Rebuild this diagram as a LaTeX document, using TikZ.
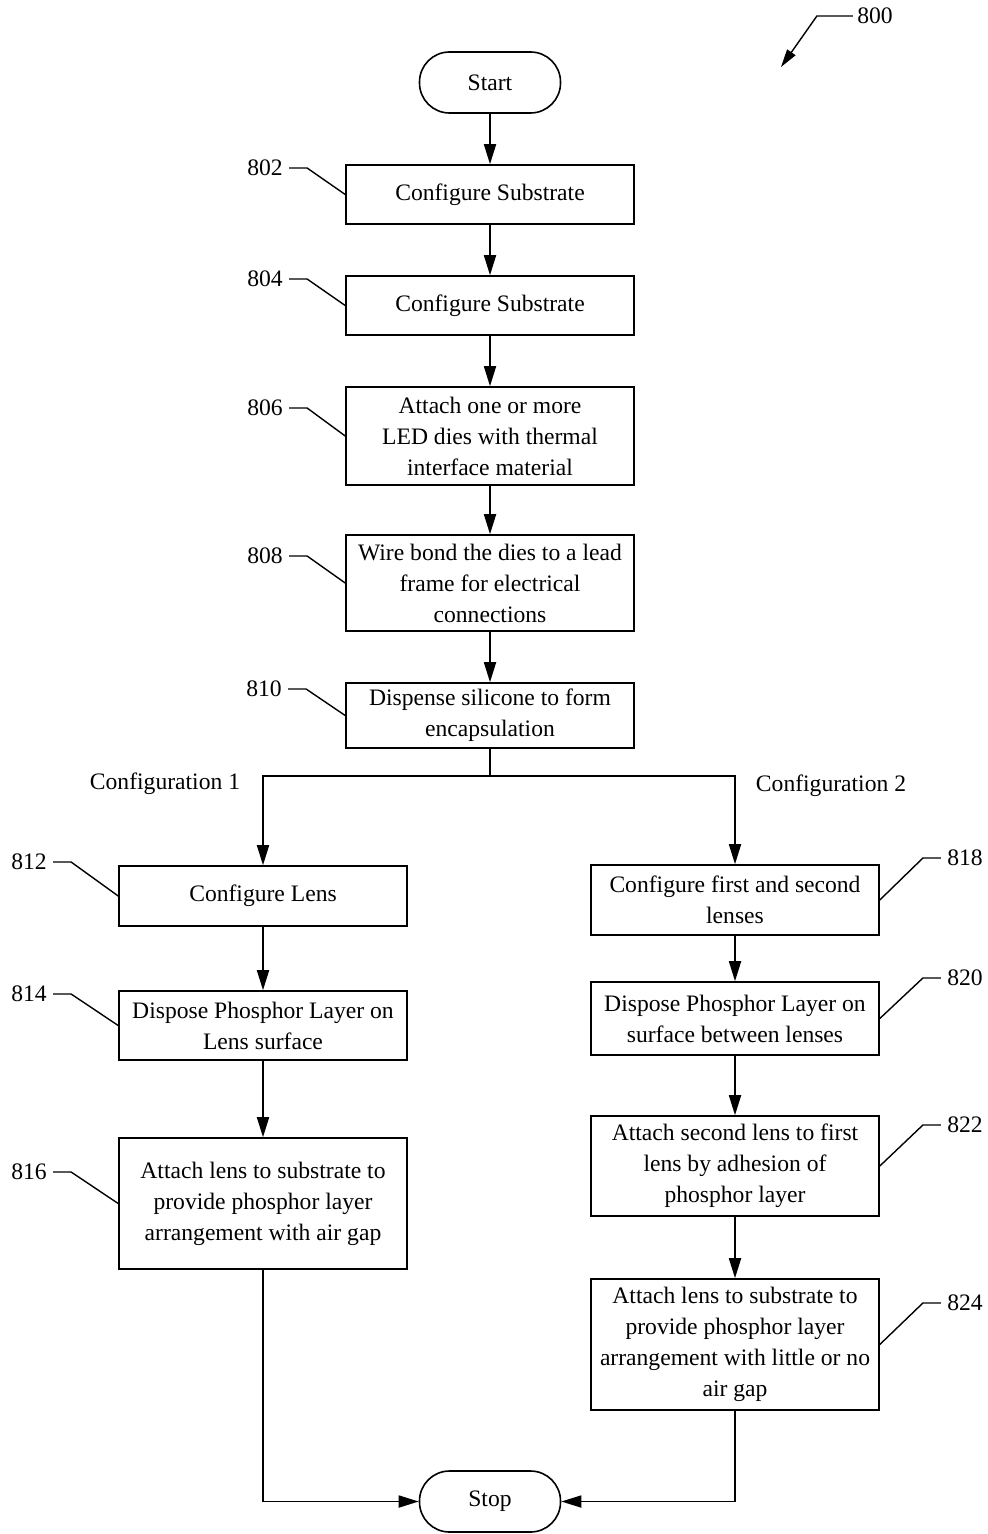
\documentclass[tikz,border=0pt]{standalone}
\usepackage{fontspec}
\setmainfont{Liberation Serif}
\usetikzlibrary{arrows.meta}
\begin{document}
\begin{tikzpicture}[x=0.5pt,y=-0.5pt,
  txt/.style={font=\fontsize{11.8}{15.5}\selectfont},
  box/.style={txt, draw, line width=0.8pt, minimum width=144pt, align=center, inner sep=1pt},
  term/.style={txt, draw, line width=0.8pt, rounded corners=15pt, minimum width=70.5pt, minimum height=30.5pt},
  lbl/.style={txt, inner sep=0pt},
  conn/.style={line width=0.9pt, -{Triangle[length=10pt,width=6pt]}},
  lead/.style={line width=0.7pt}]
\useasboundingbox (0,0) rectangle (988,1534);

% nodes
\node[term] (start) at (490,82.5) {Start};
\node[box, minimum height=29.5pt] (b802) at (490,194.5) {Configure Substrate};
\node[box, minimum height=29.5pt] (b804) at (490,305.5) {Configure Substrate};
\node[box, minimum height=49pt] (b806) at (490,436) {Attach one or more\\LED dies with thermal\\interface material};
\node[box, minimum height=48pt] (b808) at (490,583) {Wire bond the dies to a lead\\frame for electrical\\connections};
\node[box, minimum height=32.5pt] (b810) at (490,715.5) {Dispense silicone to form\\encapsulation};
\coordinate (split) at (490,776);
\node[box, minimum height=30pt] (b812) at (263,896) {Configure Lens};
\node[box, minimum height=34.5pt] (b814) at (263,1025.5) {Dispose Phosphor Layer on\\Lens surface};
\node[box, minimum height=65.5pt] (b816) at (263,1203.5) {Attach lens to substrate to\\provide phosphor layer\\arrangement with air gap};
\node[box, minimum height=35pt] (b818) at (735,900) {Configure first and second\\lenses};
\node[box, minimum height=36.5pt] (b820) at (735,1018.5) {Dispose Phosphor Layer on\\surface between lenses};
\node[box, minimum height=50pt] (b822) at (735,1166) {Attach second lens to first\\lens by adhesion of\\phosphor layer};
\node[box, minimum height=65.5pt] (b824) at (735,1344.5) {Attach lens to substrate to\\provide phosphor layer\\arrangement with little or no\\air gap};
\node[term] (stop) at (490,1501.5) {Stop};

\node[txt] (cfg1) at (165,784) {Configuration 1};
\node[txt] (cfg2) at (831,786) {Configuration 2};

% connectors
\draw[conn] (start) -- (b802);
\draw[conn] (b802) -- (b804);
\draw[conn] (b804) -- (b806);
\draw[conn] (b806) -- (b808);
\draw[conn] (b808) -- (b810);
\draw[line width=0.9pt] (b810.south) -- (split);
\draw[conn] (split) -| (b812.north);
\draw[conn] (split) -| (b818.north);
\draw[conn] (b812) -- (b814);
\draw[conn] (b814) -- (b816);
\draw[conn] (b818) -- (b820);
\draw[conn] (b820) -- (b822);
\draw[conn] (b822) -- (b824);
\draw[conn] (b816.south) |- (stop.west);
\draw[conn] (b824.south) |- (stop.east);

% reference labels
\node[lbl] (l800) at (875,16) {800};
\coordinate (a800) at (781,67);
\draw[lead, -{Triangle[length=9pt,width=5pt]}] (l800.west) ++(-4,0) -- ++(-36,0) -- (a800);

\node[lbl] (l802) at (265,168) {802};
\node[lbl] (l804) at (265,279) {804};
\node[lbl] (l806) at (265,408) {806};
\node[lbl] (l808) at (265,556) {808};
\node[lbl] (l810) at (264,689) {810};
\node[lbl] (l812) at (29,862) {812};
\node[lbl] (l814) at (29,994) {814};
\node[lbl] (l816) at (29,1172) {816};
\foreach \n in {802,804,806,808,810,812,814,816}
  \draw[lead] (l\n.east) ++(6,0) -- ++(18,0) -- (b\n.west);

\node[lbl] (l818) at (965,858) {818};
\node[lbl] (l820) at (965,978) {820};
\node[lbl] (l822) at (965,1125) {822};
\node[lbl] (l824) at (965,1303) {824};
\foreach \n in {818,820,822,824}
  \draw[lead] (l\n.west) ++(-6,0) -- ++(-18,0) -- (b\n.east);
\end{tikzpicture}
\end{document}
